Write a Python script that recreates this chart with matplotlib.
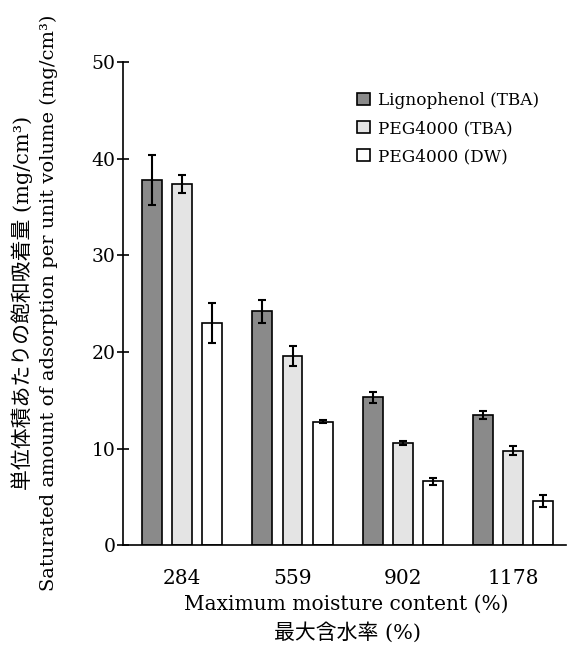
import numpy as np
import matplotlib
matplotlib.use('Agg')
import matplotlib.pyplot as plt

# data
moisture = ['284', '559', '902', '1178']
series = ['Lignophenol (TBA)', 'PEG4000 (TBA)', 'PEG4000 (DW)']
ligno = [37.8, 24.2, 15.3, 13.5]
ligno_err = [2.6, 1.15, 0.6, 0.4]
peg_tba = [37.4, 19.6, 10.6, 9.8]
peg_tba_err = [0.95, 1.0, 0.2, 0.45]
peg_dw = [23.0, 12.8, 6.6, 4.6]
peg_dw_err = [2.05, 0.15, 0.4, 0.6]

plt.rcParams['font.family'] = ['DejaVu Serif', 'Noto Sans CJK JP']

fig = plt.figure(figsize=(5.72, 6.49), dpi=100)
ax = fig.add_axes([0.215, 0.160, 0.775, 0.744])

x = np.arange(len(moisture))
step = 0.273
width = 0.18
colors = ['#8a8a8a', '#e4e4e4', 'white']
vals = [ligno, peg_tba, peg_dw]
errs = [ligno_err, peg_tba_err, peg_dw_err]

for i in range(3):
    ax.bar(x + (i - 1) * step, vals[i], width, color=colors[i], edgecolor='black',
           linewidth=1.2, label=series[i],
           yerr=errs[i], capsize=3, error_kw={'elinewidth': 1.5, 'capthick': 1.5, 'ecolor': 'black'})

ax.set_ylim(0, 50)
ax.set_xlim(-0.536, 3.48)
ax.set_yticks([0, 10, 20, 30, 40, 50])
ax.set_xticks(x)
ax.set_xticklabels(moisture)
ax.tick_params(axis='y', direction='inout', length=8, width=1.2, labelsize=13.5, pad=1.5)
ax.tick_params(axis='x', length=0, labelsize=14.5, pad=17)
ax.spines['top'].set_visible(False)
ax.spines['right'].set_visible(False)
ax.spines['left'].set_linewidth(1.2)
ax.spines['bottom'].set_linewidth(1.2)

# y label: two lines centred on the axis
ymid = 1 - 303 / 649
fig.text(22 / 572, ymid, '単位体積あたりの飽和吸着量 (mg/cm³)', rotation=90,
         ha='center', va='center', fontsize=15)
fig.text(49 / 572, ymid, 'Saturated amount of adsorption per unit volume (mg/cm³)',
         rotation=90, ha='center', va='center', fontsize=14)

fig.text(346 / 572, 1 - 604 / 649, 'Maximum moisture content (%)', ha='center', va='center',
         fontsize=14.5)
fig.text(347 / 572, 1 - 632 / 649, '最大含水率 (%)', ha='center', va='center', fontsize=15)

ax.legend(loc='upper left', bbox_to_anchor=(357 / 572, 1 - 92 / 649),
          bbox_transform=fig.transFigure, frameon=False, fontsize=12.2,
          handlelength=0.75, handleheight=0.75, handletextpad=0.5, labelspacing=0.65,
          borderpad=0, borderaxespad=0)

plt.savefig('out.png', dpi=100)
